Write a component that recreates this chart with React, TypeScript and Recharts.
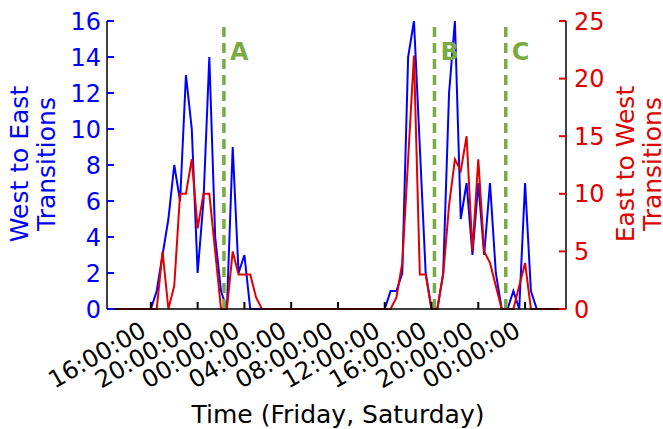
import { LineChart, Line, XAxis, YAxis, ReferenceLine } from 'recharts';

// half-hour bins, Friday 12:00 -> Sunday 03:30
const START_HOUR = 12;
const STEP = 0.5;

const westToEast = [
  0, 0, 0, 0, 0, 0, 0, 0, // Fri 12:00-15:30
  0, 1, 3, 5, 8, 6, 13, 10, // 16:00-19:30
  2, 6, 14, 4, 1, 0, 9, 2, // 20:00-23:30
  3, 0, 0, 0, 0, 0, 0, 0, // Sat 00:00-03:30
  0, 0, 0, 0, 0, 0, 0, 0, // 04:00-07:30
  0, 0, 0, 0, 0, 0, 0, 0, // 08:00-11:30
  0, 1, 1, 2, 14, 16, 9, 2, // 12:00-15:30
  0, 0, 2, 12, 16, 5, 7, 3, // 16:00-19:30
  7, 3, 7, 2, 0, 0, 1, 0, // 20:00-23:30
  7, 1, 0, 0, 0, 0, 0, 0, // Sun 00:00-03:30
];

const eastToWest = [
  0, 0, 0, 0, 0, 0, 0, 0,
  0, 0, 5, 0, 2, 10, 10, 13,
  7, 10, 10, 5, 0, 0, 5, 3,
  3, 3, 1, 0, 0, 0, 0, 0,
  0, 0, 0, 0, 0, 0, 0, 0,
  0, 0, 0, 0, 0, 0, 0, 0,
  0, 0, 1, 4, 13, 22, 3, 3,
  0, 0, 3, 9, 13, 12, 15, 5,
  13, 5, 4, 2, 0, 0, 0, 2,
  4, 0, 0, 0, 0, 0, 0, 0,
];

const xTicks = [16, 20, 24, 28, 32, 36, 40, 44, 48];
const leftTicks = [0, 2, 4, 6, 8, 10, 12, 14, 16];
const rightTicks = [0, 5, 10, 15, 20, 25];
const events = [
  { hour: 22.25, name: 'A' },
  { hour: 40.25, name: 'B' },
  { hour: 46.35, name: 'C' },
];

const BLUE = '#0000ff';
const RED = '#e00000';
const GREEN = '#79ab45';
const FONT = '"DejaVu Sans", sans-serif';

// plot box inside the svg (body margin removed, so svg = page)
const PLOT_TOP = 21;
const PLOT_BOTTOM = 309;

const data = westToEast.map((v, i) => ({
  hour: START_HOUR + i * STEP,
  we: v,
  ew: eastToWest[i],
}));

const fmtHour = (h: number) => String(h % 24).padStart(2, '0') + ':00:00';

const BottomTick = (props: any) => {
  const { x, payload } = props;
  return (
    <g>
      <line x1={x} x2={x} y1={PLOT_BOTTOM} y2={PLOT_BOTTOM - 7} stroke="#000" strokeWidth={2} />
      <g transform={`translate(${x - 3} ${PLOT_BOTTOM + 26}) rotate(-30)`}>
        <text x={0} y={0} textAnchor="end" fontSize={24} fontFamily={FONT} fill="#000">
          {fmtHour(payload.value)}
        </text>
      </g>
    </g>
  );
};

const TopTick = (props: any) => {
  const { x } = props;
  return <line x1={x} x2={x} y1={PLOT_TOP} y2={PLOT_TOP + 7} stroke="#000" strokeWidth={2} />;
};

const LeftTick = (props: any) => {
  const { x, y, payload } = props;
  return (
    <g>
      <line x1={x} x2={x + 7} y1={y} y2={y} stroke={BLUE} strokeWidth={2} />
      <text
        x={x - 6}
        y={y}
        dy={8.5}
        textAnchor="end"
        fontSize={24}
        fontFamily={FONT}
        fill={BLUE}
      >
        {payload.value}
      </text>
    </g>
  );
};

const RightTick = (props: any) => {
  const { x, y, payload } = props;
  return (
    <g>
      <line x1={x - 7} x2={x} y1={y} y2={y} stroke={RED} strokeWidth={2} />
      <text
        x={x + 8}
        y={y}
        dy={8.5}
        textAnchor="start"
        fontSize={24}
        fontFamily={FONT}
        fill={RED}
      >
        {payload.value}
      </text>
    </g>
  );
};

export default function App() {
  return (
    <>
      <style>{'body { margin: 0; overflow: hidden; }'}</style>
      <LineChart
        width={663}
        height={429}
        data={data}
        margin={{ top: PLOT_TOP, right: 0, bottom: 0, left: 0 }}
        style={{ fontFamily: FONT }}
      >
        <XAxis
          xAxisId="b"
          dataKey="hour"
          type="number"
          domain={[12.25, 51.5]}
          allowDataOverflow
          ticks={xTicks}
          interval={0}
          height={120}
          tickSize={0}
          tickMargin={0}
          tickLine={false}
          axisLine={{ stroke: '#000', strokeWidth: 1.5 }}
          tick={<BottomTick />}
          label={{
            content: () => (
              <text
                x={338}
                y={423}
                textAnchor="middle"
                fontSize={25}
                fontFamily={FONT}
                fill="#000"
              >
                Time (Friday, Saturday)
              </text>
            ),
          }}
        />
        <XAxis
          xAxisId="t"
          orientation="top"
          dataKey="hour"
          type="number"
          domain={[12.25, 51.5]}
          allowDataOverflow
          ticks={xTicks}
          interval={0}
          height={0}
          tickSize={0}
          tickMargin={0}
          tickLine={false}
          axisLine={{ stroke: '#000', strokeWidth: 1.5 }}
          tick={<TopTick />}
        />
        <YAxis
          yAxisId="l"
          domain={[0, 16]}
          ticks={leftTicks}
          interval={0}
          width={107}
          tickSize={0}
          tickMargin={0}
          tickLine={false}
          axisLine={{ stroke: '#000', strokeWidth: 1.5 }}
          tick={<LeftTick />}
          label={{
            content: () => (
              <text
                transform="translate(0 164) rotate(-90)"
                textAnchor="middle"
                fontSize={25}
                fontFamily={FONT}
                fill={BLUE}
              >
                <tspan x={0} y={28}>West to East</tspan>
                <tspan x={0} y={55}>Transitions</tspan>
              </text>
            ),
          }}
        />
        <YAxis
          yAxisId="r"
          orientation="right"
          domain={[0, 25]}
          ticks={rightTicks}
          interval={0}
          width={97}
          tickSize={0}
          tickMargin={0}
          tickLine={false}
          axisLine={{ stroke: '#000', strokeWidth: 1.5 }}
          tick={<RightTick />}
          label={{
            content: () => (
              <text
                transform="translate(0 164) rotate(-90)"
                textAnchor="middle"
                fontSize={25}
                fontFamily={FONT}
                fill={RED}
              >
                <tspan x={0} y={634}>East to West</tspan>
                <tspan x={0} y={661}>Transitions</tspan>
              </text>
            ),
          }}
        />
        <Line
          xAxisId="b"
          yAxisId="l"
          dataKey="we"
          type="linear"
          stroke={BLUE}
          strokeWidth={2}
          dot={false}
          isAnimationActive={false}
        />
        <Line
          xAxisId="b"
          yAxisId="r"
          dataKey="ew"
          type="linear"
          stroke={RED}
          strokeWidth={2}
          dot={false}
          isAnimationActive={false}
        />
        {events.map((e) => (
          <ReferenceLine
            key={e.name}
            xAxisId="b"
            yAxisId="l"
            x={e.hour}
            stroke={GREEN}
            strokeWidth={3.5}
            strokeDasharray="10 6"
            label={{
              content: (p: any) => (
                <text
                  x={p.viewBox.x + 6}
                  y={p.viewBox.y + 39}
                  fontSize={24}
                  fontWeight="bold"
                  fontFamily={FONT}
                  fill={GREEN}
                >
                  {e.name}
                </text>
              ),
            }}
          />
        ))}
      </LineChart>
    </>
  );
}
